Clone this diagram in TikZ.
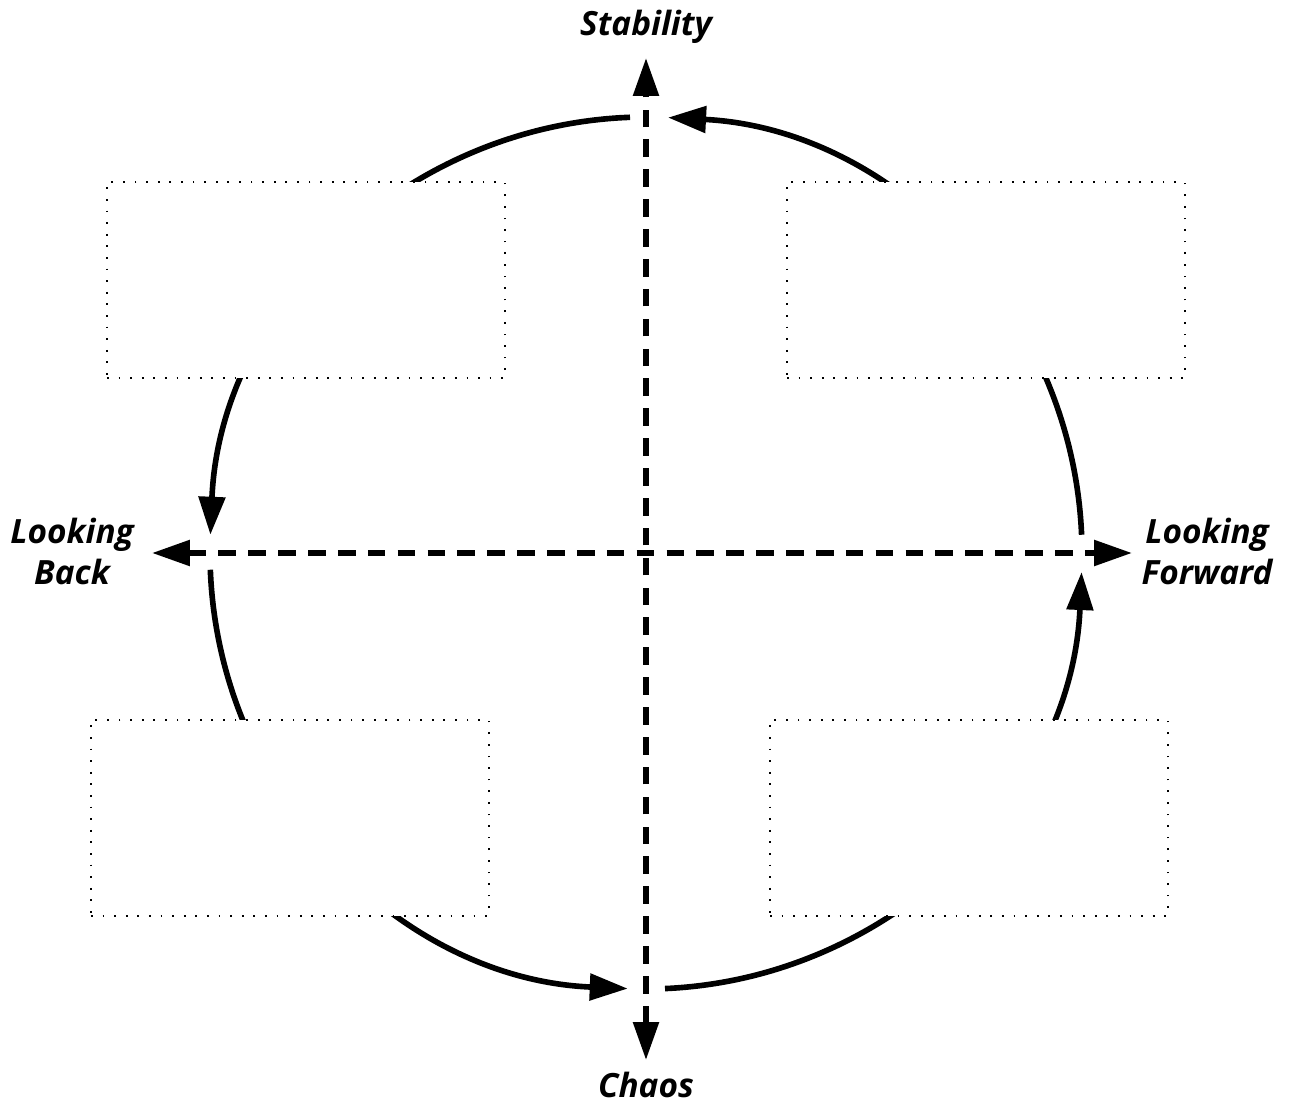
\documentclass[tikz,border=0pt]{standalone}
\usepackage{fontspec}
\setmainfont{Open Sans}
\usetikzlibrary{arrows.meta}

\begin{document}
\begin{tikzpicture}[
    axis/.style={line width=3.2pt, dash pattern=on 10pt off 7pt, {Triangle[length=0.76cm,width=0.5cm]}-{Triangle[length=0.76cm,width=0.5cm]}},
    cycle/.style={line width=3.2pt, -{Triangle[length=0.76cm,width=0.52cm]}},
    slot/.style={draw, fill=white, line width=1pt, dash pattern=on 1pt off 5.6pt, minimum width=7.96cm, minimum height=3.92cm},
    tag/.style={font=\fontsize{19}{23}\selectfont\bfseries\itshape, align=center}
]
    \useasboundingbox (-12.92,-11.02) rectangle (12.92,11.06);
    \coordinate (O) at (0,0);
    % Cycle arcs
    \draw[cycle] (O) ++(2.4:8.72) arc[start angle=2.4, end angle=87.1, radius=8.72cm];
    \draw[cycle] (O) ++(92.1:8.72) arc[start angle=92.1, end angle=177.6, radius=8.72cm];
    \draw[cycle] (O) ++(182.2:8.72) arc[start angle=182.2, end angle=267.6, radius=8.72cm];
    \draw[cycle] (O) ++(272.5:8.72) arc[start angle=272.5, end angle=357.5, radius=8.72cm];
    % Empty boxes
    \node[slot] (tl) at (-6.8,5.46) {};
    \node[slot] (tr) at (6.8,5.46) {};
    \node[slot] (bl) at (-7.12,-5.3) {};
    \node[slot] (br) at (6.46,-5.3) {};
    % Axes
    \coordinate (up) at (0,9.9);
    \coordinate (down) at (0,-10.14);
    \coordinate (back) at (-9.88,0);
    \coordinate (fwd) at (9.72,0);
    \draw[axis] (down) -- (up);
    \draw[axis] (back) -- (fwd);
    % Labels
    \node[tag] (stab) at (0,10.52) {Stability};
    \node[tag] (chaos) at (0,-10.64) {Chaos};
    \node[tag] (lb) at (-11.48,0.03) {Looking\\Back};
    \node[tag] (lf) at (11.22,0.03) {Looking\\Forward};
\end{tikzpicture}
\end{document}
